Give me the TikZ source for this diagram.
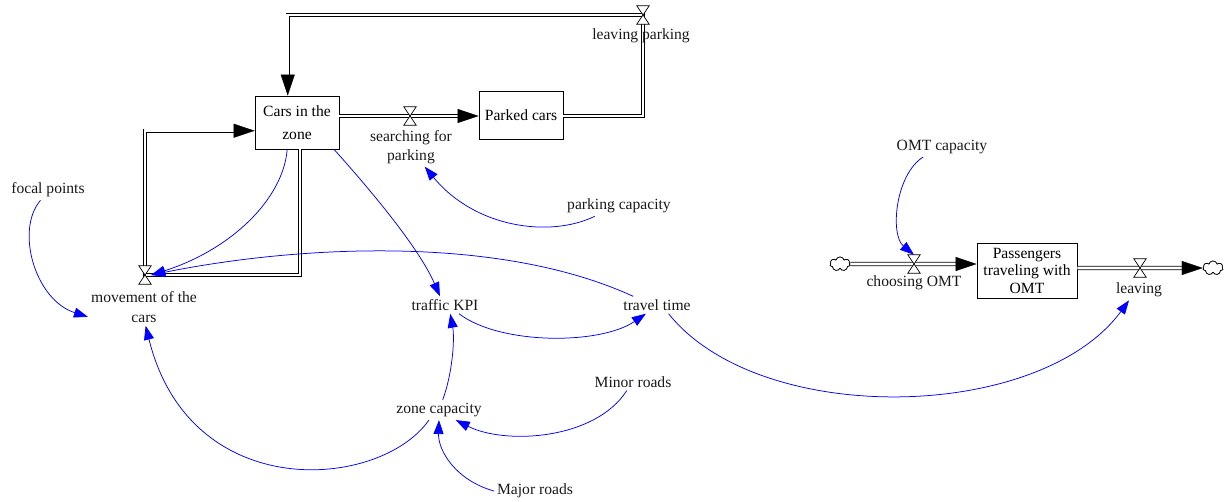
\documentclass[tikz,border=0pt]{standalone}
\usepackage{fontspec}
\setmainfont{Liberation Serif}
\usetikzlibrary{arrows.meta,shapes.symbols,calc}
\begin{document}
\begin{tikzpicture}[x=1pt,y=-1pt,
  font=\fontsize{15.6}{18.5}\selectfont,
  var/.style={inner sep=3pt, align=center, text=black!90},
  stock/.style={draw, line width=0.8pt, align=center, minimum width=84pt, minimum height=53pt, inner sep=2pt},
  valvenode/.style={minimum width=12pt, minimum height=18pt, inner sep=0pt},
  valveshape/.style={draw, fill=white, line width=0.7pt, line join=miter},
  pipe/.style={draw=black, double=white, line width=0.9pt, double distance=2.6pt, line join=miter, shorten >=18pt},
  pipehead/.style={draw, line width=0.4pt, -{Triangle[length=21pt,width=14pt]}},
  link/.style={draw=blue, line width=0.75pt, -{Triangle[length=14pt,width=10pt]}},
  cloudnode/.style={cloud, cloud puffs=7, aspect=1.4, draw, fill=white, line width=0.7pt, minimum width=20pt, minimum height=14pt, inner sep=0pt}
]
\useasboundingbox (0,0) rectangle (1224,502);

% stocks
\node[stock] (cars) at (297,122.5) {Cars in the\\[4pt]zone};
\node[stock, minimum height=48pt] (parked) at (521,115) {Parked cars};
\node[stock, minimum width=100pt, minimum height=55pt, font=\fontsize{15.6}{17.5}\selectfont] (pass) at (1027,270.5) {Passengers\\traveling with\\OMT};

% valves
\node[valvenode] (sv) at (410,116) {};
\node[valvenode] (lp) at (643,15) {};
\node[valvenode] (mv) at (145,275) {};
\node[valvenode] (cv) at (914,264) {};
\node[valvenode] (lv) at (1140,268) {};

% clouds
\node[cloudnode] (cl) at (840,264) {};
\node[cloudnode] (cr) at (1213,268) {};

% pipes
\draw[pipe] (sv -| cars.east) -- (sv -| parked.west);
\draw[pipehead] ($(sv -| parked.west)+(-4,0)$) -- (sv -| parked.west);
\draw[pipe] (sv -| parked.east) -| (lp.center) -| (cars.109);
\draw[pipehead] ($(cars.109)+(0,-4)$) -- (cars.109);
\draw[pipe] (cars.-84) |- (mv.center) |- (cars.191);
\draw[pipehead] ($(cars.191)+(-4,0)$) -- (cars.191);
\draw[pipe] (cl.east) -- (cv -| pass.west);
\draw[pipehead] ($(cv -| pass.west)+(-4,0)$) -- (cv -| pass.west);
\draw[pipe] (lv -| pass.east) -- (cr.west);
\draw[pipehead] ($(cr.west)+(-4,0)$) -- (cr.west);

\node[cloudnode] at (cl) {};
\node[cloudnode] at (cr) {};

\foreach \v in {sv,lp,mv,cv,lv}
  \draw[valveshape] (\v.north west) -- (\v.north east) -- (\v.south west) -- (\v.south east) -- cycle;

% labels and variables
\node[var] (svl) at (411,147) {searching for\\parking};
\node[var] (lpl) at (641,36) {leaving parking};
\node[var, font=\fontsize{15.6}{20}\selectfont] (mvl) at (144,307) {movement of the\\cars};
\node[var] (cvl) at (914,283) {choosing OMT};
\node[var] (lvl) at (1139,290) {leaving};
\node[var] (focal) at (48,190) {focal points};
\node[var] (pc) at (619,206) {parking capacity};
\node[var] (kpi) at (445,305) {traffic KPI};
\node[var] (tt) at (657,305) {travel time};
\node[var] (minor) at (633,382) {Minor roads};
\node[var] (zone) at (439,410) {zone capacity};
\node[var] (major) at (535,491) {Major roads};
\node[var] (omt) at (942,147) {OMT capacity};

% information links
\draw[link] (focal.-126) .. controls (15,230) and (35,300) .. (mvl.-170);
\draw[link] (zone.-135) .. controls (380,490) and (190,505) .. (mvl.-85);
\draw[link] (cars.-110) .. controls (283,200) and (230,250) .. (mv.east);
\draw[link] (tt.160) .. controls (500,235) and (300,245) .. (mv.east);
\draw[link] (cars.-36) .. controls (375,195) and (420,250) .. (kpi.120);
\draw[link] (pc.-157) .. controls (550,238) and (475,228) .. (svl.-55);
\draw[link] (kpi.-32) .. controls (500,345) and (600,345) .. (tt.-142);
\draw[link] (zone.70) .. controls (452,375) and (455,340) .. (kpi.-59);
\draw[link] (minor.-126) .. controls (595,440) and (505,445) .. (zone.-31);
\draw[link] (major.west) .. controls (455,480) and (438,450) .. (zone.south);
\draw[link] (omt.-152) .. controls (895,175) and (890,235) .. (cv.north);
\draw[link] (tt.-37) .. controls (760,428) and (1040,422) .. (lvl.-134);
\end{tikzpicture}
\end{document}
